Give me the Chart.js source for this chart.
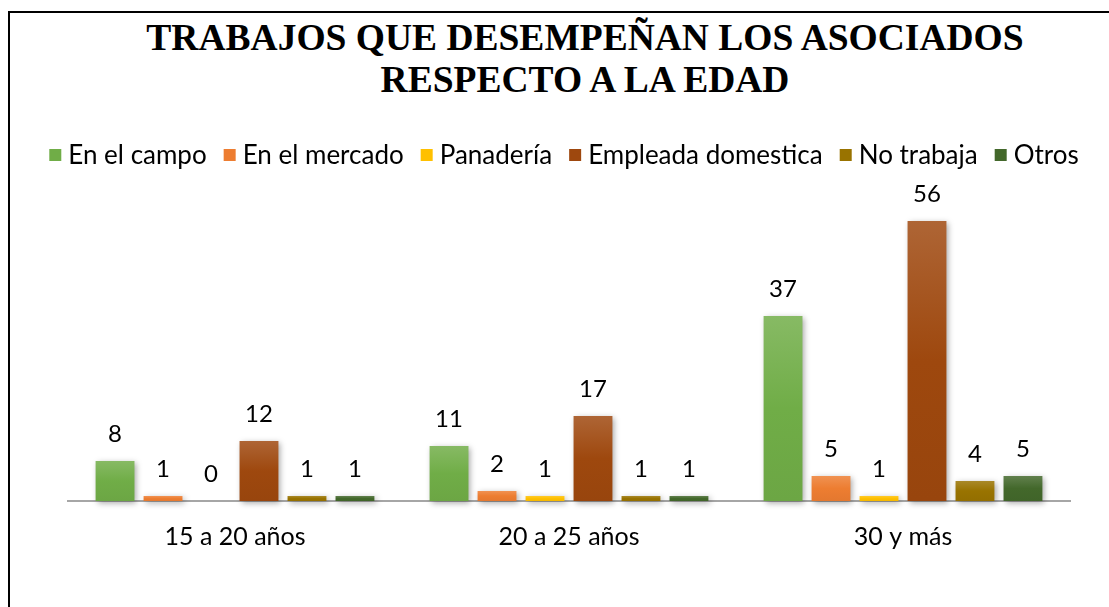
<!DOCTYPE html>
<html>
<head>
<meta charset="utf-8">
<script src="https://cdn.jsdelivr.net/npm/chart.js@4.4.1/dist/chart.umd.min.js"></script>
<style>
  html, body { margin: 0; padding: 0; background: #fff; width: 1109px; height: 607px; overflow: hidden; position: relative; }
  #frame { position: absolute; left: 8px; top: 11px; width: 2000px; height: 2000px; border-left: 2px solid #000; border-top: 2px solid #000; box-sizing: border-box; }
  #title { position: absolute; left: 0; top: 17px; width: 1170px; text-align: center; font-family: "Liberation Serif", serif; font-weight: bold; font-size: 37.5px; line-height: 42px; color: #000; }
  #wrap { position: absolute; left: 0; top: 0; width: 1126px; height: 607px; }
</style>
</head>
<body>
<div id="frame"></div>
<div id="title">TRABAJOS QUE DESEMPEÑAN LOS ASOCIADOS<br>RESPECTO A LA EDAD</div>
<div id="wrap"><canvas id="c" width="1126" height="607"></canvas></div>
<script>
const categories = ["15 a 20 años", "20 a 25 años", "30 y más"];
const seriesNames = ["En el campo", "En el mercado", "Panadería", "Empleada domestica", "No trabaja", "Otros"];
const enElCampo = [8, 11, 37];
const enElMercado = [1, 2, 5];
const panaderia = [0, 1, 1];
const empleadaDomestica = [12, 17, 56];
const noTrabaja = [1, 1, 4];
const otros = [1, 1, 5];
const seriesColors = ["#70AD47", "#ED7D31", "#FFC000", "#9E480E", "#997300", "#43682B"];

const FONT = '"Lato", "Noto Sans", sans-serif';

function hexToRgb(h) { const n = parseInt(h.slice(1), 16); return [(n >> 16) & 255, (n >> 8) & 255, n & 255]; }
function mix(h, t, a) { const c = hexToRgb(h); return "rgb(" + c.map((v, i) => Math.round(v + (t[i] - v) * a)).join(",") + ")"; }

function gradFill(base) {
  return function (ctx) {
    const chart = ctx.chart;
    if (!chart.chartArea || ctx.type !== "data") return base;
    const y = chart.scales.y;
    const top = y.getPixelForValue(ctx.raw);
    const bottom = y.getPixelForValue(0);
    if (bottom - top < 1) return base;
    const g = chart.ctx.createLinearGradient(0, top, 0, bottom);
    g.addColorStop(0, mix(base, [255, 255, 255], 0.16));
    g.addColorStop(0.5, base);
    g.addColorStop(1, mix(base, [0, 0, 0], 0.04));
    return g;
  };
}

const seriesData = [enElCampo, enElMercado, panaderia, empleadaDomestica, noTrabaja, otros];
const datasets = seriesNames.map((name, i) => ({
  label: name,
  data: seriesData[i],
  backgroundColor: gradFill(seriesColors[i]),
  borderWidth: 0,
  categoryPercentage: 0.862,
  barPercentage: 0.81,
  clip: false
}));

const shadowPlugin = {
  id: "shadow",
  beforeDatasetsDraw(chart) {
    const c = chart.ctx;
    c.save();
    c.shadowColor = "rgba(0,0,0,0.35)";
    c.shadowBlur = 6;
    c.shadowOffsetX = 2;
    c.shadowOffsetY = 2;
  },
  afterDatasetsDraw(chart) { chart.ctx.restore(); }
};

const labelPlugin = {
  id: "valueLabels",
  afterDraw(chart) {
    const c = chart.ctx;
    c.save();
    c.font = '24px ' + FONT;
    c.fillStyle = "#000";
    c.textAlign = "center";
    c.textBaseline = "middle";
    chart.data.datasets.forEach((ds, di) => {
      const meta = chart.getDatasetMeta(di);
      meta.data.forEach((el, i) => {
        c.fillText(String(ds.data[i]), el.x, el.y - 27);
      });
    });
    c.restore();
  }
};

// Legend drawn as one centred row (the built-in one would wrap at this size)
const rowLegend = {
  id: "rowLegend",
  afterDraw(chart) {
    const c = chart.ctx;
    const box = 12, gapText = 7, gapItem = 17, cy = 155, centerX = 564;
    c.save();
    c.font = '26px ' + FONT;
    c.textBaseline = "middle";
    c.textAlign = "left";
    const widths = seriesNames.map(n => c.measureText(n).width);
    const total = widths.reduce((a, w) => a + box + gapText + w, 0) + gapItem * (seriesNames.length - 1);
    let x = centerX - total / 2;
    seriesNames.forEach((n, i) => {
      c.fillStyle = seriesColors[i];
      c.fillRect(x, cy - box / 2, box, box);
      c.fillStyle = "#000";
      c.fillText(n, x + box + gapText, cy + 1);
      x += box + gapText + widths[i] + gapItem;
    });
    c.restore();
  }
};

new Chart(document.getElementById("c"), {
  type: "bar",
  data: { labels: categories, datasets: datasets },
  options: {
    responsive: false,
    animation: false,
    layout: { padding: { top: 201, left: 68, right: 56, bottom: 34 } },
    plugins: {
      title: { display: false },
      tooltip: { enabled: false },
      legend: { display: false }
    },
    scales: {
      x: {
        grid: { display: false, drawTicks: false },
        border: { display: true, color: "#a6a6a6", width: 2 },
        ticks: { color: "#000", padding: 21, font: { family: FONT, size: 25 } }
      },
      y: {
        display: false,
        min: 0,
        max: 60
      }
    }
  },
  plugins: [shadowPlugin, labelPlugin, rowLegend]
});
</script>
</body>
</html>
